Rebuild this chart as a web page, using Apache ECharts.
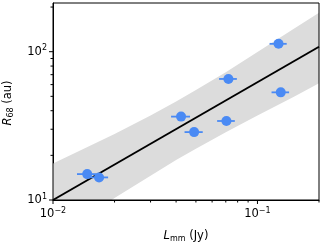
<!DOCTYPE html>
<html>
<head>
<meta charset="utf-8">
<script src="https://cdn.jsdelivr.net/npm/echarts@6/dist/echarts.min.js"></script>
<style>html,body{margin:0;padding:0;background:#fff;}#c{width:325px;height:250px;}</style>
</head>
<body>
<div id="c"></div>
<script>
// ---- data ----
const pointsX = [0.0147, 0.0168, 0.0423, 0.049, 0.0721, 0.0705, 0.1268, 0.130];
const pointsY = [14.95, 14.2, 36.5, 28.7, 65.5, 34.1, 113, 53.2];
const pointsXErr = [0.0016, 0.0018, 0.0045, 0.0050, 0.0072, 0.0070, 0.0122, 0.0128];

const fitX = [0.01, 0.2];
const fitY = [10, 108];

const bandX     = [0.01, 0.015, 0.02, 0.03, 0.04, 0.05, 0.07, 0.1, 0.15, 0.2];
const bandUpper = [17.6, 23.0, 27.9, 37.2, 46.1, 55.1, 72.8, 99.5, 142, 183];
const bandLower = [5.4, 7.9, 10.3, 14.6, 18.6, 22.2, 28.6, 37.2, 49.5, 61.2];

const xMajorTicks = [0.01, 0.1];
const xMinorTicks = [0.02, 0.03, 0.04, 0.05, 0.06, 0.07, 0.08, 0.09, 0.2];
const yMajorTicks = [10, 100];
const yMinorTicks = [20, 30, 40, 50, 60, 70, 80, 90, 200];

const X_MIN = 0.01, X_MAX = 0.2, Y_MIN = 10, Y_MAX = 213;

const FONT = 'DejaVu Sans';
const BLUE = '#4a8af4';

function expLabel(v) {
  const e = Math.round(Math.log10(v));
  if (Math.abs(Math.log10(v) - e) > 1e-6) return '';
  const s = (e < 0 ? '\u2212' : '') + Math.abs(e);
  return '{b|10}{e|' + s + '}';
}
const richLbl = {
  b: { fontFamily: FONT, fontSize: 11.5, color: '#000' },
  e: { fontFamily: FONT, fontSize: 8, color: '#000', padding: [0, 0, 7, 0] }
};

const chart = echarts.init(document.getElementById('c'), null, { renderer: 'canvas' });

const tickData = [];
xMajorTicks.forEach(v => tickData.push([v, Y_MIN, 0, 4]));
xMinorTicks.forEach(v => tickData.push([v, Y_MIN, 0, 2.5]));
yMajorTicks.forEach(v => tickData.push([X_MIN, v, 1, 4]));
yMinorTicks.forEach(v => tickData.push([X_MIN, v, 1, 2.5]));

chart.setOption({
  animation: false,
  grid: { left: 53, right: 6, top: 3, bottom: 50, show: false },
  xAxis: {
    type: 'log', logBase: 10, min: X_MIN, max: X_MAX,
    axisLine: { show: true, onZero: false, lineStyle: { color: '#000', width: 1 } },
    axisTick: { show: false },
    splitLine: { show: false },
    minorTick: { show: false },
    axisLabel: { formatter: expLabel, rich: richLbl, margin: 7, showMaxLabel: false, showMinLabel: true }
  },
  yAxis: {
    type: 'log', logBase: 10, min: Y_MIN, max: Y_MAX,
    axisLine: { show: true, onZero: false, lineStyle: { color: '#000', width: 1 } },
    axisTick: { show: false },
    splitLine: { show: false },
    axisLabel: { formatter: expLabel, rich: richLbl, margin: 6, showMaxLabel: false, showMinLabel: true }
  },
  graphic: [
    { type: 'rect', shape: { x: 53, y: 3, width: 266, height: 197 }, style: { fill: 'none', stroke: '#000', lineWidth: 1 }, z: 100, silent: true },
    { type: 'text', x: 186, y: 236, style: {
        text: '{i|L}{s|mm}{n| (Jy)}', align: 'center', verticalAlign: 'middle',
        rich: {
          i: { fontFamily: FONT, fontSize: 11.5, fontStyle: 'italic', fill: '#000' },
          s: { fontFamily: FONT, fontSize: 8, fill: '#000', padding: [5, 0, 0, 0] },
          n: { fontFamily: FONT, fontSize: 11.5, fill: '#000' }
        } } },
    { type: 'text', x: 8, y: 103, rotation: Math.PI / 2, style: {
        text: '{i|R}{s|68}{n| (au)}', align: 'center', verticalAlign: 'middle',
        rich: {
          i: { fontFamily: FONT, fontSize: 11.5, fontStyle: 'italic', fill: '#000' },
          s: { fontFamily: FONT, fontSize: 8, fill: '#000', padding: [5, 0, 0, 0] },
          n: { fontFamily: FONT, fontSize: 11.5, fill: '#000' }
        } } }
  ],
  series: [
    {
      type: 'custom', name: 'band', clip: true, z: 1,
      data: bandX.map((x, i) => [x, bandUpper[i], bandLower[i]]),
      encode: { x: 0, y: [1, 2] },
      renderItem: function (params, api) {
        if (params.dataIndex !== 0) return null;
        const pts = [];
        for (let i = 0; i < bandX.length; i++) pts.push(api.coord([bandX[i], bandUpper[i]]));
        for (let i = bandX.length - 1; i >= 0; i--) pts.push(api.coord([bandX[i], bandLower[i]]));
        return { type: 'polygon', shape: { points: pts, smooth: 0 }, style: { fill: '#dcdcdc' } };
      }
    },
    {
      type: 'line', name: 'fit', z: 3, symbol: 'none',
      data: fitX.map((x, i) => [x, fitY[i]]),
      lineStyle: { color: '#000', width: 2 }
    },
    {
      type: 'custom', name: 'xerr', z: 4,
      data: pointsX.map((x, i) => [x, pointsY[i], pointsXErr[i]]),
      encode: { x: 0, y: 1 },
      renderItem: function (params, api) {
        const x = api.value(0), y = api.value(1), e = api.value(2);
        const a = api.coord([x - e, y]), b = api.coord([x + e, y]);
        return { type: 'line', shape: { x1: a[0], y1: a[1], x2: b[0], y2: b[1] }, style: { stroke: BLUE, lineWidth: 1.8 } };
      }
    },
    {
      type: 'scatter', name: 'pts', z: 5, symbolSize: 10,
      data: pointsX.map((x, i) => [x, pointsY[i]]),
      itemStyle: { color: BLUE, opacity: 1 }
    },
    {
      type: 'custom', name: 'ticks', clip: false, z: 10, silent: true,
      data: tickData,
      encode: { x: 0, y: 1 },
      renderItem: function (params, api) {
        const p = api.coord([api.value(0), api.value(1)]);
        const dir = api.value(2), len = api.value(3);
        const shape = dir === 0
          ? { x1: p[0], y1: p[1], x2: p[0], y2: p[1] + len }
          : { x1: p[0], y1: p[1], x2: p[0] - len, y2: p[1] };
        return { type: 'line', shape: shape, style: { stroke: '#000', lineWidth: 1 } };
      }
    }
  ]
});
</script>
</body>
</html>
